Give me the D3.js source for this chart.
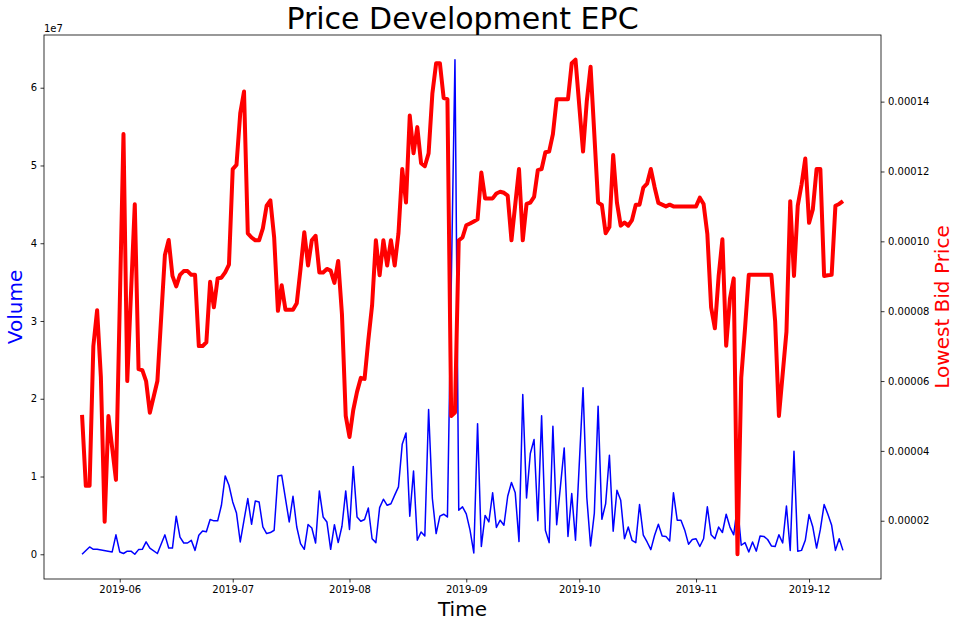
<!DOCTYPE html>
<html><head><meta charset="utf-8">
<script src="https://cdn.jsdelivr.net/npm/d3@7"></script>
<style>body{margin:0;background:#fff}svg{display:block}text{font-family:"DejaVu Sans",sans-serif}</style>
</head><body>
<script>
// Observation dates (gaps where no observation is visible)
const dates = [
"2019-05-22","2019-05-23","2019-05-24","2019-05-25","2019-05-26","2019-05-27","2019-05-28","2019-05-29","2019-05-30","2019-05-31",
"2019-06-01","2019-06-02","2019-06-03","2019-06-04","2019-06-05","2019-06-06","2019-06-07","2019-06-08","2019-06-09","2019-06-11",
"2019-06-13","2019-06-14","2019-06-15","2019-06-16","2019-06-17","2019-06-18","2019-06-19","2019-06-20","2019-06-21","2019-06-22",
"2019-06-23","2019-06-24","2019-06-25","2019-06-26","2019-06-27","2019-06-28","2019-06-29","2019-06-30",
"2019-07-01","2019-07-02","2019-07-03","2019-07-04","2019-07-05","2019-07-06","2019-07-07","2019-07-08","2019-07-09","2019-07-10",
"2019-07-11","2019-07-12","2019-07-13","2019-07-14","2019-07-15","2019-07-16","2019-07-17","2019-07-18","2019-07-19","2019-07-20",
"2019-07-21","2019-07-22","2019-07-23","2019-07-24","2019-07-25","2019-07-26","2019-07-27","2019-07-28","2019-07-29","2019-07-30","2019-07-31",
"2019-08-01","2019-08-02","2019-08-03","2019-08-04","2019-08-05","2019-08-06","2019-08-07","2019-08-08","2019-08-09","2019-08-10",
"2019-08-11","2019-08-12","2019-08-13","2019-08-14","2019-08-15","2019-08-16","2019-08-17","2019-08-18","2019-08-19","2019-08-20",
"2019-08-21","2019-08-22","2019-08-23","2019-08-24","2019-08-25","2019-08-26","2019-08-27","2019-08-28","2019-08-29","2019-08-30","2019-08-31",
"2019-09-01","2019-09-02","2019-09-03","2019-09-04","2019-09-05","2019-09-06","2019-09-07","2019-09-08","2019-09-09","2019-09-10",
"2019-09-11","2019-09-12","2019-09-13","2019-09-14","2019-09-15","2019-09-16","2019-09-17","2019-09-18","2019-09-19","2019-09-20",
"2019-09-21","2019-09-22","2019-09-23","2019-09-24","2019-09-25","2019-09-26","2019-09-27","2019-09-28","2019-09-29","2019-09-30",
"2019-10-02","2019-10-03","2019-10-04","2019-10-05","2019-10-06","2019-10-07","2019-10-08","2019-10-09","2019-10-10","2019-10-11",
"2019-10-12","2019-10-13","2019-10-14","2019-10-15","2019-10-16","2019-10-17","2019-10-18","2019-10-19","2019-10-20","2019-10-21",
"2019-10-22","2019-10-23","2019-10-24","2019-10-25","2019-10-26","2019-10-27","2019-10-28","2019-10-29","2019-10-30","2019-10-31",
"2019-11-01","2019-11-02","2019-11-03","2019-11-04","2019-11-05","2019-11-06","2019-11-07","2019-11-08","2019-11-09","2019-11-10",
"2019-11-11","2019-11-12","2019-11-13","2019-11-14","2019-11-15","2019-11-16","2019-11-17","2019-11-18","2019-11-19","2019-11-20",
"2019-11-21","2019-11-22","2019-11-23","2019-11-24","2019-11-25","2019-11-26","2019-11-27","2019-11-28","2019-11-29","2019-11-30",
"2019-12-01","2019-12-02","2019-12-03","2019-12-04","2019-12-05","2019-12-06","2019-12-07","2019-12-08","2019-12-09","2019-12-10"
];

// Volume, in units of 1e7 (null = no point visible)
const volumeE7 = [
0.0,null,0.094,0.064,0.064,null,null,null,0.03,0.25,
0.03,0.01,0.04,0.04,0.0,0.06,0.064,0.16,0.08,0.01,
0.25,0.08,0.08,0.49,0.22,0.145,0.145,0.18,0.05,0.245,
0.30,0.29,0.447,0.43,0.43,0.63,1.008,0.888,
0.673,0.53,0.158,0.438,0.717,0.386,0.686,0.673,0.351,0.266,
0.279,0.309,1.008,1.017,null,0.416,0.746,0.351,0.138,0.064,
0.382,0.338,0.145,0.815,0.48,0.416,0.064,0.38,0.15,0.36,0.815,
0.32,1.13,0.48,0.425,0.447,0.596,0.2,0.15,0.6,0.708,
0.63,0.65,0.76,0.866,1.416,1.56,0.49,1.07,0.18,0.287,
0.235,1.862,0.717,0.266,0.49,0.515,0.48,null,6.36,0.566,0.61,
0.52,0.31,0.017,1.68,0.1,0.5,0.416,0.79,0.344,0.438,
0.373,0.746,0.923,0.79,0.163,2.055,0.725,1.296,1.476,0.43,
1.78,0.31,0.15,1.647,0.38,null,1.368,0.23,0.78,0.18,
2.14,0.73,0.107,0.53,1.905,0.45,0.65,1.274,0.296,0.824,
0.695,0.2,0.35,0.18,0.15,0.64,0.245,0.158,0.06,0.245,
0.386,0.235,0.23,0.17,0.79,0.438,0.438,0.31,0.13,0.19,
0.2,0.1,0.2,0.61,0.25,0.2,0.35,0.28,0.515,0.35,
0.25,0.63,0.116,0.15,0.03,0.158,0.04,0.235,0.23,0.19,
0.107,0.1,0.25,0.145,0.62,0.05,1.326,0.04,0.05,0.18,
0.51,0.35,0.08,0.32,0.64,0.515,0.373,0.05,0.2,0.05
];

// Lowest bid price, in units of 1e-5 (null = no point visible)
const priceE5 = [
5.03,3.00,3.00,7.00,8.03,6.11,1.97,5.00,null,3.17,
null,13.07,6.00,null,11.06,6.34,6.31,6.00,5.09,6.00,
9.61,10.04,9.01,8.71,9.04,9.15,9.15,9.04,9.04,7.00,
7.00,7.11,8.84,8.11,8.94,8.96,9.11,9.33,
12.07,12.19,13.67,14.29,10.23,10.11,10.03,10.03,10.37,11.02,
11.17,10.11,8.01,8.74,8.04,8.04,8.04,8.23,9.21,10.26,
9.31,10.03,10.16,9.11,9.11,9.21,9.16,8.81,9.44,7.91,5.00,
4.40,5.17,5.69,6.09,6.06,7.17,8.17,10.03,9.03,10.03,
9.31,10.03,9.31,10.23,12.07,11.11,13.6,12.52,13.27,12.24,
12.15,12.52,14.23,15.1,15.1,14.1,14.07,5.00,5.1,10.03,10.11,
10.46,10.51,10.57,10.63,11.97,11.23,11.23,11.23,11.37,11.42,
11.39,11.31,10.03,null,12.07,10.03,11.07,11.11,11.27,12.04,
12.07,12.55,12.57,13.07,14.07,14.07,14.07,14.07,15.1,15.2,
12.57,14.02,15.0,null,11.11,11.04,10.23,10.41,12.47,11.11,
10.45,10.54,10.45,10.61,11.05,11.05,11.54,11.65,12.07,11.55,
11.1,11.05,11.0,11.05,11.0,11.0,11.0,11.0,11.0,11.0,
11.0,11.25,11.07,10.21,8.11,7.51,9.01,10.06,7.01,8.36,
8.94,1.04,6.1,7.51,9.04,9.04,9.04,9.04,9.04,9.04,
9.04,7.71,5.0,null,7.41,11.15,9.01,11.02,11.62,12.37,
10.53,10.91,12.07,12.07,9.01,9.03,9.04,11.02,11.07,11.15
];

const volumeTicks = [0,1,2,3,4,5,6];
const priceTicksE5 = [2,4,6,8,10,12,14];
const monthTicks = ["2019-06-01","2019-07-01","2019-08-01","2019-09-01","2019-10-01","2019-11-01","2019-12-01"];

const W = 958, H = 626;
const L = 44, R = 881, T = 35, B = 579;
const parse = d3.timeParse("%Y-%m-%d");
const times = dates.map(parse);

const svg = d3.select("body").append("svg").attr("width", W).attr("height", H);
svg.append("rect").attr("width", W).attr("height", H).attr("fill", "#fff");

// matplotlib-like 5% autoscale margins
function padded(arr) {
  const [a, b] = d3.extent(arr.filter(v => v != null));
  const p = (b - a) * 0.05;
  return [a - p, b + p];
}
const [t0, t1] = d3.extent(times);
const tp = (t1 - t0) * 0.05;
const x = d3.scaleTime().domain([new Date(+t0 - tp), new Date(+t1 + tp)]).range([L, R]);
const yL = d3.scaleLinear().domain(padded(volumeE7)).range([B, T]);
const yR = d3.scaleLinear().domain(padded(priceE5)).range([B, T]);

svg.append("clipPath").attr("id", "clip").append("rect")
  .attr("x", L).attr("y", T).attr("width", R - L).attr("height", B - T);

const volData = times.map((t, i) => ({t, v: volumeE7[i]})).filter(d => d.v != null);
const priceData = times.map((t, i) => ({t, v: priceE5[i]})).filter(d => d.v != null);

svg.append("path").datum(volData)
  .attr("clip-path", "url(#clip)")
  .attr("fill", "none").attr("stroke", "blue").attr("stroke-width", 1.5)
  .attr("stroke-linejoin", "round")
  .attr("d", d3.line().x(d => x(d.t)).y(d => yL(d.v)));

svg.append("path").datum(priceData)
  .attr("clip-path", "url(#clip)")
  .attr("fill", "none").attr("stroke", "red").attr("stroke-width", 4)
  .attr("stroke-linejoin", "round")
  .attr("d", d3.line().x(d => x(d.t)).y(d => yR(d.v)));

// frame
svg.append("rect").attr("x", L).attr("y", T).attr("width", R - L).attr("height", B - T)
  .attr("fill", "none").attr("stroke", "#000").attr("stroke-width", 0.8);

function styleAxis(g) {
  g.select(".domain").remove();
  g.selectAll(".tick line").attr("stroke", "#000").attr("stroke-width", 0.8);
  g.selectAll(".tick text").attr("fill", "#000").style("font-size", "10px")
    .style("font-family", "'DejaVu Sans', sans-serif");
}

svg.append("g").attr("transform", `translate(0,${B})`)
  .call(d3.axisBottom(x).tickValues(monthTicks.map(parse)).tickFormat(d3.timeFormat("%Y-%m"))
    .tickSize(3.5).tickPadding(3.5))
  .call(styleAxis);

svg.append("g").attr("transform", `translate(${L},0)`)
  .call(d3.axisLeft(yL).tickValues(volumeTicks).tickFormat(d3.format("d"))
    .tickSize(3.5).tickPadding(3.5))
  .call(styleAxis);

svg.append("g").attr("transform", `translate(${R},0)`)
  .call(d3.axisRight(yR).tickValues(priceTicksE5).tickFormat(v => (v * 1e-5).toFixed(5))
    .tickSize(3.5).tickPadding(3.5))
  .call(styleAxis);

// offset text
svg.append("text").attr("x", L).attr("y", 32).style("font-size", "10px").text("1e7");

// title and labels
svg.append("text").attr("x", (L + R) / 2).attr("y", 29).attr("text-anchor", "middle")
  .style("font-size", "30px").text("Price Development EPC");
svg.append("text").attr("x", (L + R) / 2).attr("y", 616).attr("text-anchor", "middle")
  .style("font-size", "20px").text("Time");
svg.append("text").attr("transform", `translate(22,${(T + B) / 2}) rotate(-90)`)
  .attr("text-anchor", "middle").attr("fill", "blue").style("font-size", "20px").text("Volume");
svg.append("text").attr("transform", `translate(949,${(T + B) / 2}) rotate(-90)`)
  .attr("text-anchor", "middle").attr("fill", "red").style("font-size", "20px").text("Lowest Bid Price");
</script>
</body></html>
